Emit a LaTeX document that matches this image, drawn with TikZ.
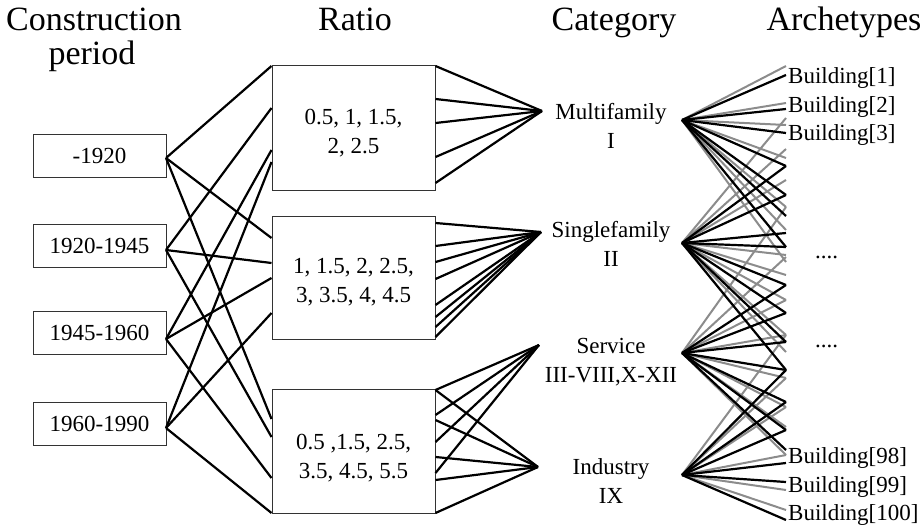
\documentclass[tikz,border=0pt]{standalone}
\usepackage{fontspec}
\setmainfont{Liberation Serif}
\begin{document}
\begin{tikzpicture}[x=1pt,y=-1pt,
  hdr/.style={font=\fontsize{34}{36}\selectfont, anchor=base, inner sep=0pt},
  txt/.style={font=\fontsize{23}{29}\selectfont, align=center, inner sep=0pt},
  bld/.style={font=\fontsize{23}{26}\selectfont, anchor=base west, inner sep=0pt},
  pbox/.style={draw=black!80, line width=1pt, minimum width=133pt, minimum height=43pt, inner sep=0pt, font=\fontsize{23}{29}\selectfont},
  rbox/.style={draw=black!80, line width=1pt, minimum width=163pt, inner sep=0pt},
  conn/.style={line width=2.2pt, black},
  bconn/.style={line width=2.2pt, black},
  gconn/.style={line width=2pt, black!45}
]
\useasboundingbox (0,0) rectangle (921,527);

% headers
\node[hdr] (hC) at (94,31) {Construction};
\node[hdr] (hP) at (92,64) {period};
\node[hdr] (hR) at (355,31) {Ratio};
\node[hdr] (hK) at (614,31) {Category};
\node[hdr] (hA) at (844,31) {Archetypes};

% period boxes
\node[pbox] (p1) at (99.5,155.5) {-1920};
\node[pbox] (p2) at (99.5,245.5) {1920-1945};
\node[pbox] (p3) at (99.5,332.5) {1945-1960};
\node[pbox] (p4) at (99.5,423.5) {1960-1990};
\coordinate (p1o) at (166,158);
\coordinate (p2o) at (166,250);
\coordinate (p3o) at (166,339);
\coordinate (p4o) at (166,428);

% ratio boxes
\node[rbox, minimum height=124pt] (r1) at (353.5,128) {};
\node[rbox, minimum height=123pt] (r2) at (353.5,277.5) {};
\node[rbox, minimum height=124pt] (r3) at (353.5,451) {};
\node[txt] (t1) at (353.5,133) {0.5, 1, 1.5,\\2, 2.5};
\node[txt] (t2) at (353.5,282) {1, 1.5, 2, 2.5,\\3, 3.5, 4, 4.5};
\node[txt] (t3) at (353.5,458) {0.5 ,1.5, 2.5,\\3.5, 4.5, 5.5};

% period -> ratio
\draw[conn] (p1o) -- (r1.west |- 0,66);
\draw[conn] (p1o) -- (r2.west |- 0,238);
\draw[conn] (p1o) -- (r3.west |- 0,419);
\draw[conn] (p2o) -- (r1.west |- 0,108);
\draw[conn] (p2o) -- (r2.west |- 0,263);
\draw[conn] (p2o) -- (r3.west |- 0,437);
\draw[conn] (p3o) -- (r1.west |- 0,150);
\draw[conn] (p3o) -- (r2.west |- 0,278);
\draw[conn] (p3o) -- (r3.west |- 0,478);
\draw[conn] (p4o) -- (r1.west |- 0,162);
\draw[conn] (p4o) -- (r2.west |- 0,313);
\draw[conn] (p4o) -- (r3.west |- 0,513);

% categories
\node[txt] (cM) at (611,126) {Multifamily\\I};
\node[txt] (cS) at (611,244) {Singlefamily\\II};
\node[txt] (cV) at (611,362) {Service\\III-VIII,X-XII};
\node[txt] (cI) at (611,481) {Industry\\IX};
\coordinate (mi) at (542,111);
\coordinate (si) at (541,232);
\coordinate (vi) at (539,345);
\coordinate (ii) at (538,467);
\coordinate (mo) at (682,120);
\coordinate (so) at (682,243);
\coordinate (vo) at (682,353);
\coordinate (io) at (682,475);

% ratio -> category
\foreach \y in {66,99,123,157,183} \draw[conn] (r1.east |- 0,\y) -- (mi);
\foreach \y in {223,246,262,279,305,317,327,337} \draw[conn] (r2.east |- 0,\y) -- (si);
\foreach \y in {390,415,442,473} \draw[conn] (r3.east |- 0,\y) -- (vi);
\foreach \y in {390,420,457,480,513} \draw[conn] (r3.east |- 0,\y) -- (ii);

% category -> archetypes (gray first)
\foreach \y in {66,103,125,158,207,230,262} \draw[gconn] (mo) -- (786,\y);
\foreach \y in {118,149,180,255,275,300,335,352} \draw[gconn] (so) -- (786,\y);
\foreach \y in {207,257,300,335,378,407,427,455} \draw[gconn] (vo) -- (786,\y);
\foreach \y in {335,378,407,455,490,510} \draw[gconn] (io) -- (786,\y);
\foreach \y in {75,109,133,166,195,216,247} \draw[bconn] (mo) -- (786,\y);
\foreach \y in {166,195,233,247,285,313,342,370} \draw[bconn] (so) -- (786,\y);
\foreach \y in {285,313,342,370,402,430,450} \draw[bconn] (vo) -- (786,\y);
\foreach \y in {370,402,430,463,482,520} \draw[bconn] (io) -- (786,\y);

% building labels
\node[bld] (b1) at (788,83) {Building[1]};
\node[bld] (b2) at (788,112) {Building[2]};
\node[bld] (b3) at (788,140) {Building[3]};
\node[bld] (b98) at (788,463) {Building[98]};
\node[bld] (b99) at (788,492) {Building[99]};
\node[bld] (b100) at (788,520) {Building[100]};
\node[bld] (d1) at (815,258) {....};
\node[bld] (d2) at (815,347) {....};
\end{tikzpicture}
\end{document}
